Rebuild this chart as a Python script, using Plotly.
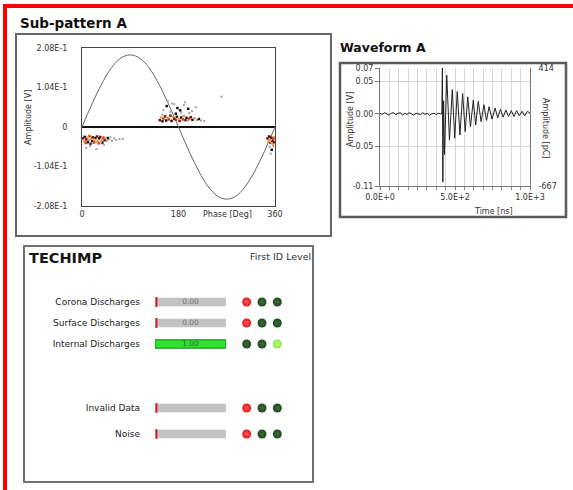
import plotly.graph_objects as go

W, H = 573, 490
def px(x): return x / W
def py(y): return 1 - y / H

# ---------------- Sub-pattern A data ----------------
sine_phase = [0, 10, 20, 30, 40, 50, 60, 70, 80, 90, 100, 110, 120, 130, 140, 150, 160, 170, 180,
              190, 200, 210, 220, 230, 240, 250, 260, 270, 280, 290, 300, 310, 320, 330, 340, 350, 360]
sine_amp = [0.0, 0.033, 0.065, 0.095, 0.122, 0.146, 0.165, 0.179, 0.187, 0.190, 0.187, 0.179, 0.165,
            0.146, 0.122, 0.095, 0.065, 0.033, 0.0, -0.033, -0.065, -0.095, -0.122, -0.146, -0.165,
            -0.179, -0.187, -0.190, -0.187, -0.179, -0.165, -0.146, -0.122, -0.095, -0.065, -0.033, 0.0]

pd_phase = [2, 4, 5, 7, 8, 10, 11, 13, 14, 16, 17, 19, 20, 22, 23, 25, 26, 28, 29, 31, 32, 34, 35, 37, 38,
            40, 42, 44, 46, 48, 50, 53, 56, 60, 64, 70, 76, 8, 15, 27, 41,
            145, 148, 150, 152, 155, 157, 160, 162, 165, 167, 170, 172, 175, 177, 180, 182, 185, 188, 190,
            193, 195, 198, 200, 203, 206, 210, 214, 218, 222, 228,
            152, 158, 165, 172, 178, 185, 192, 198, 205, 212, 160, 175, 190, 260, 150, 168, 183, 200,
            346, 348, 349, 351, 352, 353, 355, 356, 357, 358, 359, 350, 354, 357, 352]
pd_amp = [-0.030, -0.038, -0.026, -0.042, -0.033, -0.028, -0.040, -0.035, -0.024, -0.044, -0.031, -0.037,
          -0.027, -0.041, -0.034, -0.029, -0.039, -0.025, -0.036, -0.043, -0.030, -0.026, -0.038, -0.033,
          -0.041, -0.028, -0.035, -0.031, -0.037, -0.029, -0.033, -0.027, -0.036, -0.030, -0.034, -0.032,
          -0.031, -0.055, -0.050, -0.058, -0.047,
          0.018, 0.025, 0.015, 0.022, 0.028, 0.017, 0.024, 0.020, 0.030, 0.016, 0.026, 0.021, 0.019, 0.027,
          0.023, 0.016, 0.025, 0.020, 0.029, 0.018, 0.024, 0.017, 0.022, 0.026, 0.019, 0.023, 0.018, 0.021,
          0.017, 0.016,
          0.045, 0.055, 0.040, 0.060, 0.050, 0.038, 0.065, 0.048, 0.042, 0.052, 0.068, 0.035, 0.058, 0.080,
          0.033, 0.062, 0.044, 0.037,
          -0.030, -0.038, -0.025, -0.042, -0.033, -0.028, -0.036, -0.045, -0.031, -0.040, -0.027, -0.052,
          -0.060, -0.050, -0.070]
pd_kind = ["dr", "o", "k", "r", "dr", "o", "k", "g", "r", "dr", "o", "k", "dr", "r", "o", "k", "g", "dr",
           "o", "r", "k", "dr", "o", "g", "k", "r", "dr", "o", "g", "k", "g", "g", "g", "g", "g", "g", "g",
           "g", "g", "g", "g",
           "dr", "o", "k", "r", "dr", "k", "o", "r", "dr", "k", "o", "dr", "r", "k", "o", "dr", "k", "r",
           "o", "dr", "k", "g", "r", "dr", "k", "o", "g", "k", "g", "g",
           "g", "k", "g", "g", "k", "g", "g", "k", "g", "g", "g", "k", "g", "g", "g", "g", "k", "g",
           "dr", "o", "k", "r", "o", "dr", "k", "o", "r", "dr", "o", "g", "k", "g", "g"]

# ---------------- Waveform A data ----------------
wave_t = [0, 15, 30, 45, 60, 75, 90, 105, 120, 135, 150, 165, 180, 195, 210, 225, 240, 255, 270, 285,
          300, 315, 330, 345, 360, 375, 390, 405,
          412, 416, 419, 424, 430, 445, 463, 482, 498, 515, 533, 551, 568, 585, 603, 622, 638, 655, 674,
          693, 710, 727, 747, 767, 785, 803, 821, 839, 857, 875, 893, 911, 929, 947, 965, 983, 1000]
wave_v = [0.001, -0.001, 0.002, 0.000, -0.002, 0.001, 0.002, -0.001, 0.000, 0.002, -0.002, 0.001, -0.001,
          0.002, 0.000, -0.002, 0.001, 0.000, -0.001, 0.002, -0.001, 0.001, -0.002, 0.000, 0.001, -0.001,
          0.001, 0.000,
          0.000, 0.070, -0.104, 0.020, -0.062, 0.059, -0.040, 0.037, -0.037, 0.034, -0.032, 0.031, -0.027,
          0.026, -0.020, 0.021, -0.017, 0.019, -0.012, 0.014, -0.010, 0.011, -0.008, 0.009, -0.006, 0.007,
          -0.005, 0.006, -0.004, 0.005, -0.004, 0.005, -0.003, 0.004, -0.003, 0.004, 0.001]

# ---------------- First ID level data ----------------
top_rows = ["Corona Discharges", "Surface Discharges", "Internal Discharges"]
top_values = [0.0, 0.0, 1.0]
top_active_led = [0, 0, 2]
bottom_rows = ["Invalid Data", "Noise"]
bottom_values = [0.0, 0.0]
bottom_active_led = [0, 0]

FONT = "DejaVu Sans"
kind_colors = {"dr": "#7a1212", "r": "#d23a22", "o": "#e8a040", "k": "#151515", "g": "#a0a0a0"}

fig = go.Figure()

fig.add_trace(go.Scatter(x=sine_phase, y=sine_amp, mode="lines", line=dict(color="#666", width=1, shape="spline"),
                         xaxis="x", yaxis="y", hoverinfo="skip"))
for k in ["g", "k", "o", "r", "dr"]:
    xs = [p for p, kk in zip(pd_phase, pd_kind) if kk == k]
    ys = [a for a, kk in zip(pd_amp, pd_kind) if kk == k]
    fig.add_trace(go.Scatter(x=xs, y=ys, mode="markers", xaxis="x", yaxis="y",
                             marker=dict(symbol="square", size=2.5 if k != "g" else 2, color=kind_colors[k],
                                         line=dict(width=0))))

fig.add_trace(go.Scatter(x=wave_t, y=wave_v, mode="lines", line=dict(color="#222", width=1),
                         xaxis="x2", yaxis="y2"))
fig.add_trace(go.Scatter(x=[0], y=[0], mode="markers", marker=dict(opacity=0), xaxis="x2", yaxis="y3",
                         hoverinfo="skip"))

led_on = {0: "#e3161c", 2: "#86e63c"}
led_on_hi = {0: "#ff5a5a", 2: "#c8ff90"}
led_off = "#1f4a1c"
led_off_hi = "#3f6a3a"

def add_group(rows, values, active, yax, bw):
    n = len(rows)
    fig.add_trace(go.Bar(y=rows, x=[1] * n, orientation="h", width=bw, xaxis="x4", yaxis=yax,
                         marker=dict(color="#c3c3c3", line=dict(width=0))))
    fig.add_trace(go.Bar(y=rows, x=values, orientation="h", width=bw, xaxis="x4", yaxis=yax,
                         marker=dict(color="#2fe22f", line=dict(color="#0e8a0e",
                                                                width=[1 if v > 0 else 0 for v in values]))))
    zr = [r for r, v in zip(rows, values) if v == 0]
    fig.add_trace(go.Scatter(y=zr, x=[0.02] * len(zr), mode="markers", xaxis="x4", yaxis=yax,
                             marker=dict(symbol="line-ns", size=7, line=dict(color="#d42020", width=2))))
    for i, r in enumerate(rows):
        cols, his = [], []
        for j in range(3):
            if j == active[i]:
                cols.append(led_on[j]); his.append(led_on_hi[j])
            else:
                cols.append(led_off); his.append(led_off_hi)
        fig.add_trace(go.Scatter(x=[1, 2, 3], y=[r] * 3, mode="markers", xaxis="x5", yaxis=yax,
                                 marker=dict(size=9, color=cols, line=dict(width=0),
                                             gradient=dict(type="radial", color=his))))

add_group(top_rows, top_values, top_active_led, "y4", 0.4)
add_group(bottom_rows, bottom_values, bottom_active_led, "y5", 0.32)
fig.add_trace(go.Scatter(y=top_rows, x=[0.5] * 3, mode="text", xaxis="x4", yaxis="y4",
                         text=["%.2f" % v for v in top_values],
                         textfont=dict(family=FONT, size=7.5, color=["#707070", "#707070", "#2c6a2c"])))

ax_common = dict(showgrid=False, zeroline=False)
fig.update_layout(
    width=W, height=H, margin=dict(l=0, r=0, t=0, b=0, pad=0, autoexpand=False), autosize=False,
    paper_bgcolor="white", plot_bgcolor="white", showlegend=False, barmode="overlay",
    font=dict(family=FONT, size=8, color="#333"),
    xaxis=dict(domain=[px(82), px(275)], range=[0, 360], tickvals=[0, 180, 360], showline=True, mirror=True,
               linecolor="#444", linewidth=1, ticks="", anchor="y", **ax_common),
    yaxis=dict(domain=[py(206), py(48)], range=[-0.208, 0.208], tickvals=[0.208, 0.104, 0, -0.104, -0.208],
               ticktext=["2.08E-1", "1.04E-1", "0", "-1.04E-1", "-2.08E-1"], showline=True, mirror=True,
               linecolor="#444", linewidth=1, ticks="", ticklabelstandoff=12, anchor="x",
               showgrid=False, zeroline=True, zerolinecolor="#111", zerolinewidth=2),
    xaxis2=dict(domain=[px(380), px(530)], range=[0, 1000], tickvals=[0, 500, 1000],
                ticktext=["0.0E+0", "5.0E+2", "1.0E+3"], showgrid=True, gridcolor="#d4d4d4",
                ticks="outside", ticklen=3, tickcolor="#777", showline=True, linecolor="#777",
                zeroline=False, anchor="y2",
                minor=dict(dtick=62.5, tick0=0, showgrid=True, gridcolor="#d8d8d8", ticks="outside",
                           ticklen=3, tickcolor="#888")),
    yaxis2=dict(domain=[py(186), py(68)], range=[-0.11, 0.07], tickvals=[0.07, 0.05, 0, -0.05, -0.11],
                ticktext=["0.07", "0.05", "0.00", "-0.05", "-0.11"], ticks="outside", ticklen=4,
                tickcolor="#777", showline=True, linecolor="#777", showgrid=True, gridcolor="#d4d4d4",
                zeroline=False, anchor="x2"),
    yaxis3=dict(overlaying="y2", side="right", anchor="x2", range=[-667, 414], tickvals=[414, -667],
                ticktext=["414", "-667"], showline=True, linecolor="#777", ticks="", ticklabelstandoff=6,
                **ax_common),
    xaxis4=dict(domain=[px(155), px(226)], range=[0, 1], visible=False, anchor="y4"),
    yaxis4=dict(domain=[py(354.5), py(291.5)], type="category", categoryorder="array", categoryarray=top_rows,
                range=[2.5, -0.5], ticks="", showline=False, ticklabelstandoff=14, anchor="x4",
                tickfont=dict(size=9, color="#222"), **ax_common),
    yaxis5=dict(domain=[py(447), py(395)], type="category", categoryorder="array", categoryarray=bottom_rows,
                range=[1.5, -0.5], ticks="", showline=False, ticklabelstandoff=14, anchor="x4",
                tickfont=dict(size=9, color="#222"), **ax_common),
    xaxis5=dict(domain=[px(239), px(285)], range=[0.5, 3.5], visible=False, anchor="y4"),
)

shapes = []
def box(x0, y0, x1, y1, color, w):
    shapes.append(dict(type="rect", xref="paper", yref="paper", x0=px(x0), x1=px(x1), y0=py(y1), y1=py(y0),
                       line=dict(color=color, width=w), fillcolor="rgba(0,0,0,0)", layer="below"))
box(16, 34, 331, 236, "#666", 2)
box(340, 63, 566, 217, "#5a5a5a", 2.5)
box(24, 246, 313, 482, "#707070", 2)
shapes.append(dict(type="line", xref="paper", yref="paper", x0=px(5), x1=px(5), y0=py(490), y1=py(5),
                   line=dict(color="#ff0000", width=4)))
shapes.append(dict(type="line", xref="paper", yref="paper", x0=px(3), x1=px(573), y0=py(6), y1=py(6),
                   line=dict(color="#ff0000", width=4)))
fig.update_layout(shapes=shapes)

ann = []
def text(x, y, s, size=8, color="#333", xanchor="left", bold=False, angle=0, family=FONT):
    ann.append(dict(x=px(x), y=py(y), xref="paper", yref="paper", text=("<b>%s</b>" % s) if bold else s,
                    showarrow=False, xanchor=xanchor, yanchor="middle", textangle=angle,
                    font=dict(family=family, size=size, color=color)))
text(18, 23, "Sub-pattern A", size=13.5, color="#111", bold=True)
text(338, 47, "Waveform A", size=12.5, color="#111", bold=True)
text(28, 118, "Amplitude [V]", size=8, angle=-90, xanchor="center")
text(227, 214, "Phase [Deg]", size=8, xanchor="center")
text(350, 120, "Amplitude [V]", size=8, angle=-90, xanchor="center")
text(546, 128, "Amplitude [pC]", size=8, angle=90, xanchor="center")
text(493, 211, "Time [ns]", size=8, xanchor="center")
text(27, 258, "TECHIMP", size=14.5, color="#151515", bold=True)
text(313, 256, "First ID Level", size=9.5, color="#333", xanchor="right")
fig.update_layout(annotations=ann)

fig.write_html("out.html", config={"displayModeBar": False},
               post_script="document.body.style.margin='0';document.body.style.overflow='hidden';")
